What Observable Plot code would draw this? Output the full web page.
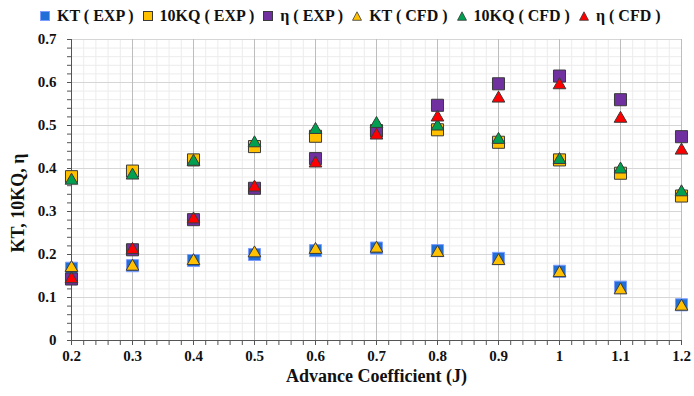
<!DOCTYPE html>
<html>
<head>
<meta charset="utf-8">
<script src="https://cdn.jsdelivr.net/npm/d3@7"></script>
<script src="https://cdn.jsdelivr.net/npm/@observablehq/plot@0.6"></script>
<style>
  html, body { margin: 0; padding: 0; background: #fff; }
  #chart { position: relative; width: 694px; height: 396px; }
  #legend {
    position: absolute; left: 40px; top: 5px; height: 22px;
    display: flex; align-items: center; gap: 9px;
    font-family: "Liberation Serif", "Times New Roman", serif;
    font-weight: bold; font-size: 16px; color: #111; white-space: pre;
  }
  #legend .item { display: flex; align-items: center; gap: 7px; }
  #legend svg { display: block; }
  #plot { position: absolute; left: 0; top: 28px; }
</style>
</head>
<body>
<div id="chart">
  <div id="legend"></div>
  <div id="plot"></div>
</div>
<script>
// Advance coefficient J
const advanceJ = [0.2, 0.3, 0.4, 0.5, 0.6, 0.7, 0.8, 0.9, 1.0, 1.1, 1.2];

// Experimental results
const ktExp  = [0.168, 0.174, 0.186, 0.200, 0.209, 0.215, 0.209, 0.191, 0.161, 0.124, 0.083];
const kqExp  = [0.381, 0.394, 0.420, 0.451, 0.475, 0.488, 0.490, 0.461, 0.420, 0.389, 0.336];
const etaExp = [0.143, 0.211, 0.281, 0.354, 0.423, 0.487, 0.547, 0.597, 0.615, 0.560, 0.474];

// CFD results
const ktCfd  = [0.169, 0.172, 0.185, 0.203, 0.211, 0.214, 0.204, 0.185, 0.157, 0.117, 0.079];
const kqCfd  = [0.372, 0.384, 0.416, 0.459, 0.490, 0.504, 0.498, 0.467, 0.420, 0.398, 0.345];
const etaCfd = [0.143, 0.211, 0.282, 0.356, 0.412, 0.477, 0.519, 0.563, 0.594, 0.516, 0.442];

// Axis ticks
const xTicks = [0.2, 0.3, 0.4, 0.5, 0.6, 0.7, 0.8, 0.9, 1.0, 1.1, 1.2];
const xTickLabels = ["0.2", "0.3", "0.4", "0.5", "0.6", "0.7", "0.8", "0.9", "1", "1.1", "1.2"];
const yTicks = [0, 0.1, 0.2, 0.3, 0.4, 0.5, 0.6, 0.7];
const yTickLabels = ["0", "0.1", "0.2", "0.3", "0.4", "0.5", "0.6", "0.7"];
const xMinor = d3.range(0, 51).map(i => +(0.2 + i * 0.02).toFixed(2));
const yMinor = d3.range(0, 36).map(i => +(i * 0.02).toFixed(2));

// Series definitions (drawn in this order)
const series = [
  {name: "KT ( EXP )",   values: ktExp,  symbol: "square",   fill: "#1f6fd6", stroke: "#7d9cff"},
  {name: "10KQ ( EXP )", values: kqExp,  symbol: "square",   fill: "#ffc000", stroke: "#3a3a3a"},
  {name: "η ( EXP )",    values: etaExp, symbol: "square",   fill: "#7030a0", stroke: "#3a3a3a"},
  {name: "KT ( CFD )",   values: ktCfd,  symbol: "triangle", fill: "#ffc000", stroke: "#3a3a3a"},
  {name: "10KQ ( CFD )", values: kqCfd,  symbol: "triangle", fill: "#00a050", stroke: "#3a3a3a"},
  {name: "η ( CFD )",    values: etaCfd, symbol: "triangle", fill: "#ff0000", stroke: "#3a3a3a"}
];

const font = "Liberation Serif, Times New Roman, serif";

const dotMarks = series.map(s => Plot.dot(
  advanceJ.map((j, i) => ({j, v: s.values[i]})),
  {
    x: "j", y: "v", symbol: () => s.symbol,
    r: s.symbol === "square" ? 6.8 : 4.7,
    fill: s.fill, stroke: s.stroke, strokeWidth: 1
  }
));

const chart = Plot.plot({
  width: 694,
  height: 368,
  marginLeft: 71,
  marginRight: 13,
  marginTop: 11,
  marginBottom: 56,
  style: {fontFamily: font, background: "#fff", overflow: "visible"},
  x: {domain: [0.2, 1.2]},
  y: {domain: [0, 0.7]},
  symbol: {type: "identity"},
  marks: [
    Plot.gridX(xMinor, {stroke: "#ececec", strokeOpacity: 1}),
    Plot.gridY(yMinor, {stroke: "#ececec", strokeOpacity: 1}),
    Plot.gridY(yTicks, {stroke: "#d6d6d6", strokeOpacity: 1}),
    Plot.gridX(xTicks, {stroke: "#bdbdbd", strokeOpacity: 1}),
    Plot.axisX(xMinor, {tickSize: 5, tickFormat: () => "", stroke: "#555", label: null}),
    Plot.axisX(xTicks, {
      tickSize: 5, tickPadding: 5, stroke: "#555", label: null,
      tickFormat: d => xTickLabels[xTicks.indexOf(d)],
      fontSize: 15, fontWeight: "bold", fill: "#111"
    }),
    Plot.axisY(yMinor, {tickSize: 4, tickFormat: () => "", stroke: "#555", label: null}),
    Plot.axisY(yTicks, {
      tickSize: 4, tickPadding: 11, stroke: "#555", label: null,
      tickFormat: d => yTickLabels[yTicks.indexOf(d)],
      fontSize: 15, fontWeight: "bold", fill: "#111"
    }),
    Plot.ruleY([0], {stroke: "#555"}),
    Plot.ruleX([0.2], {stroke: "#555"}),
    ...dotMarks,
    Plot.text(["Advance Coefficient (J)"], {
      frameAnchor: "bottom", dy: 41, fontSize: 18, fontWeight: "bold", fill: "#111"
    }),
    Plot.text(["KT, 10KQ, η"], {
      frameAnchor: "left", textAnchor: "middle", dx: -53, dy: 13, rotate: -90,
      fontSize: 18, fontWeight: "bold", fill: "#111"
    })
  ]
});
document.getElementById("plot").appendChild(chart);

// Legend
const legend = document.getElementById("legend");
for (const s of series) {
  const item = document.createElement("div");
  item.className = "item";
  const sw = s.symbol === "square"
    ? `<svg width="10" height="10"><rect x="0.5" y="0.5" width="9" height="9" fill="${s.fill}" stroke="${s.stroke}"/></svg>`
    : `<svg width="10" height="10"><path d="M5,0.8 L9.5,9.3 L0.5,9.3 Z" fill="${s.fill}" stroke="${s.stroke}" stroke-width="0.8"/></svg>`;
  item.innerHTML = sw + `<span>${s.name}</span>`;
  legend.appendChild(item);
}
</script>
</body>
</html>
